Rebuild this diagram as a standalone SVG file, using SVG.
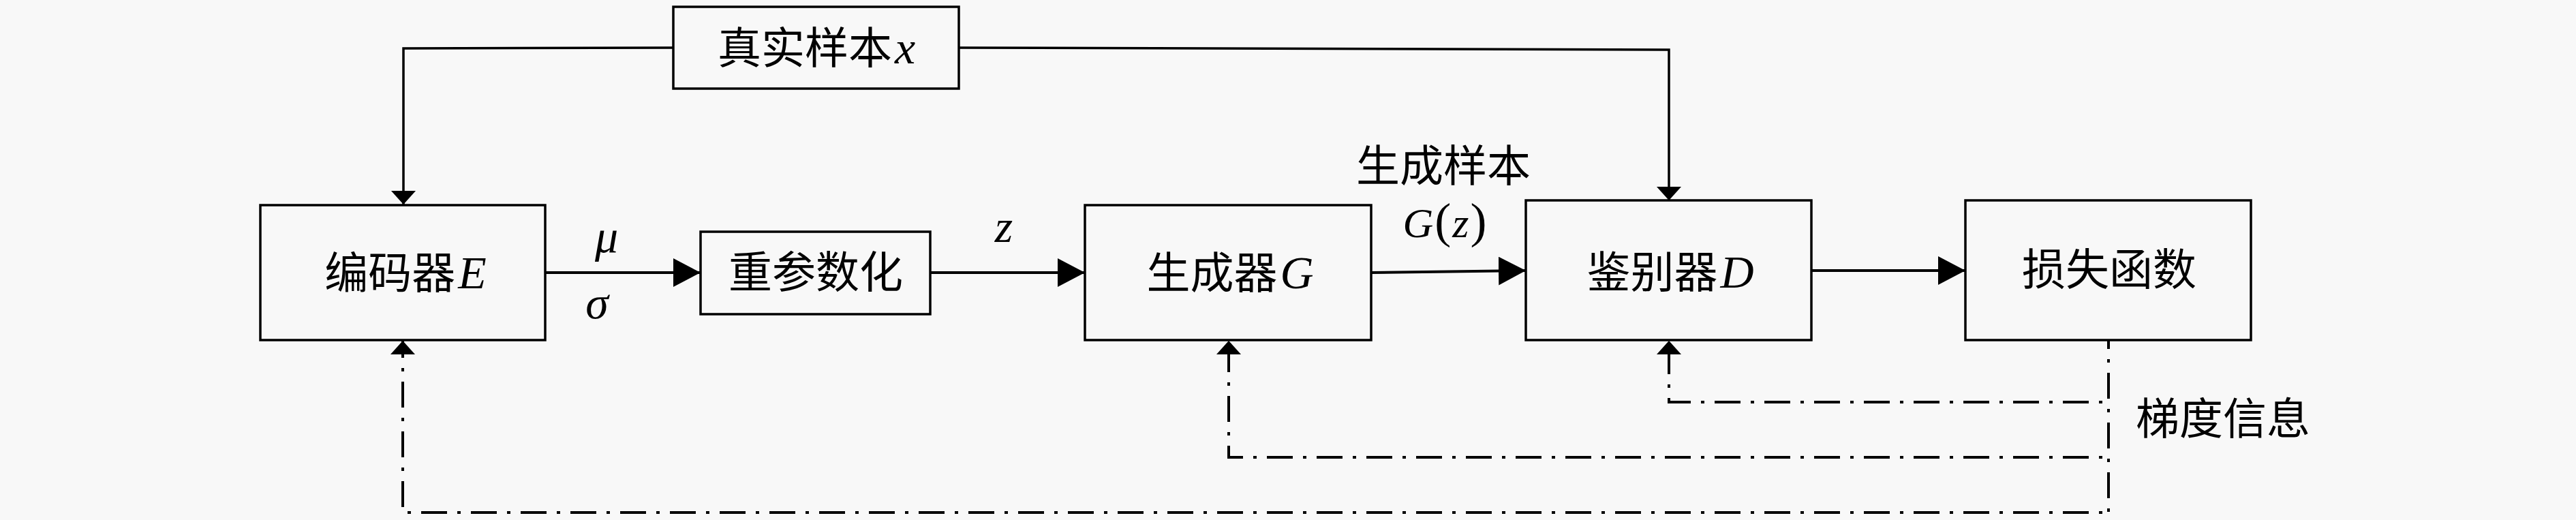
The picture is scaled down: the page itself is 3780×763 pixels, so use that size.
<svg xmlns="http://www.w3.org/2000/svg" width="3780" height="763" viewBox="0 0 3780 763">
<defs>
<style>
.box{fill:#f8f8f8;stroke:#000;stroke-width:3.5}
.ln{fill:none;stroke:#000;stroke-width:3.5}
.ln4{fill:none;stroke:#000;stroke-width:4}
.dd{fill:none;stroke:#000;stroke-width:4;stroke-dasharray:38 15 5 15;stroke-dashoffset:44}
.cjk{font-family:"Noto Sans CJK SC","Noto Sans CJK JP",sans-serif;font-size:64px;fill:#000}
.m{font-family:"Liberation Serif","DejaVu Serif",serif;font-style:italic;font-size:68px;fill:#000}
.ms{font-family:"Liberation Serif","DejaVu Serif",serif;font-style:italic;font-size:62px;fill:#000}
.mu{font-family:"Liberation Serif","DejaVu Serif",serif;font-size:72px;fill:#000}
</style>
<marker id="big" markerUnits="userSpaceOnUse" markerWidth="42" markerHeight="44" refX="40" refY="21" orient="auto">
<path d="M0,0 L40,21 L0,42 Z" fill="#000"/>
</marker>
<marker id="small" markerUnits="userSpaceOnUse" markerWidth="22" markerHeight="38" refX="20" refY="18" orient="auto">
<path d="M0,0 L20,18 L0,36 Z" fill="#000"/>
</marker>
</defs>
<rect x="0" y="0" width="3780" height="763" fill="#f8f8f8"/>

<g id="connectors">
<path class="ln" d="M988,70 L592,71 L592,300" marker-end="url(#small)"/>
<path class="ln" d="M1407,70 L2449,73 L2449,294" marker-end="url(#small)"/>
<path class="ln4" d="M800,400 L1028,400" marker-end="url(#big)"/>
<path class="ln4" d="M1365,400 L1592,400" marker-end="url(#big)"/>
<path class="ln4" d="M2012,400 L2239,397" marker-end="url(#big)"/>
<path class="ln4" d="M2658,397 L2884,397" marker-end="url(#big)"/>
<path class="dd" d="M3094,499 L3094,752" style="stroke-dashoffset:25"/>
<path class="dd" d="M3094,590 L2449,590 L2449,500" marker-end="url(#small)"/>
<path class="dd" d="M3094,671 L1803,671 L1803,500" marker-end="url(#small)"/>
<path class="dd" d="M3094,752 L591,752 L591,500" marker-end="url(#small)"/>
<text class="m" x="890" y="370" text-anchor="middle">μ</text>
<text class="m" x="876" y="467" text-anchor="middle">σ</text>
<text class="m" x="1473" y="355" text-anchor="middle">z</text>
<text class="cjk" x="2118" y="266" text-anchor="middle">生成样本</text>
<text x="2120" y="348" text-anchor="middle"><tspan class="ms">G</tspan><tspan class="mu" dx="2">(</tspan><tspan class="ms" dx="2">z</tspan><tspan class="mu" dx="2">)</tspan></text>
<text class="cjk" x="3134" y="637">梯度信息</text>
</g>

<g id="real-sample">
<rect class="box" x="988" y="10" width="419" height="120"/>
<text x="1198" y="93" text-anchor="middle"><tspan class="cjk">真实样本</tspan><tspan class="m" dx="4">x</tspan></text>
</g>

<g id="encoder">
<rect class="box" x="382" y="301" width="418" height="198"/>
<text x="595" y="423" text-anchor="middle"><tspan class="cjk">编码器</tspan><tspan class="m" dx="4">E</tspan></text>
</g>

<g id="reparam">
<rect class="box" x="1028" y="340" width="337" height="121"/>
<text class="cjk" x="1197" y="422" text-anchor="middle">重参数化</text>
</g>

<g id="generator">
<rect class="box" x="1592" y="301" width="420" height="198"/>
<text x="1805" y="423" text-anchor="middle"><tspan class="cjk">生成器</tspan><tspan class="m" dx="4">G</tspan></text>
</g>

<g id="discriminator">
<rect class="box" x="2239" y="294" width="419" height="205"/>
<text x="2451" y="422" text-anchor="middle"><tspan class="cjk">鉴别器</tspan><tspan class="m" dx="4">D</tspan></text>
</g>

<g id="loss">
<rect class="box" x="2884" y="294" width="419" height="205"/>
<text class="cjk" x="3095" y="418" text-anchor="middle">损失函数</text>
</g>
</svg>
